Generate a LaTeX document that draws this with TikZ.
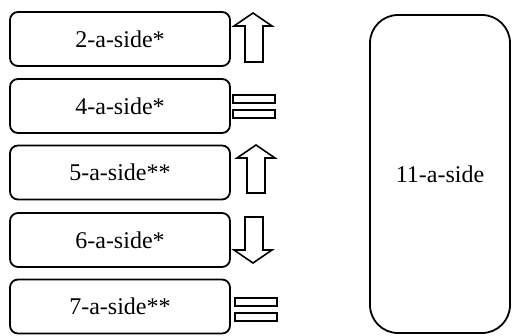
\documentclass[tikz,border=0pt]{standalone}
\usepackage{fontspec}
\setmainfont{Liberation Serif}
\begin{document}
\begin{tikzpicture}[x=1pt,y=-1pt,
  sbox/.style={draw,line width=1.8pt,rounded corners=8pt,minimum width=220pt,minimum height=54pt,font=\fontsize{24}{26}\selectfont,inner sep=0pt},
  bbox/.style={draw,line width=1.8pt,rounded corners=28pt,minimum width=140pt,minimum height=318pt,font=\fontsize{24}{26}\selectfont,inner sep=0pt},
  sym/.style={draw,line width=1.6pt,fill=white}]
\useasboundingbox (0,0) rectangle (514,335);
\node[sbox] (b2) at (120,39) {2-a-side*};
\node[sbox] (b4) at (120,106) {4-a-side*};
\node[sbox] (b5) at (120,172.5) {5-a-side**};
\node[sbox] (b6) at (120,240) {6-a-side*};
\node[sbox] (b7) at (120,306.5) {7-a-side**};
\node[bbox] (b11) at (440,174) {11-a-side};
% up arrow 1
\draw[sym] (253,13) -- (272,26) -- (263,26) -- (263,62) -- (245,62) -- (245,26) -- (234,26) -- cycle;
% equals 1
\draw[sym] (233,95) rectangle (275,103);
\draw[sym] (233,110) rectangle (275,118);
% up arrow 2
\draw[sym] (256,145) -- (275,158) -- (265,158) -- (265,193) -- (247,193) -- (247,158) -- (237,158) -- cycle;
% down arrow
\draw[sym] (253,263) -- (272,250) -- (263,250) -- (263,217) -- (245,217) -- (245,250) -- (234,250) -- cycle;
% equals 2
\draw[sym] (235,298) rectangle (277,306);
\draw[sym] (235,313) rectangle (277,321);
\end{tikzpicture}
\end{document}
